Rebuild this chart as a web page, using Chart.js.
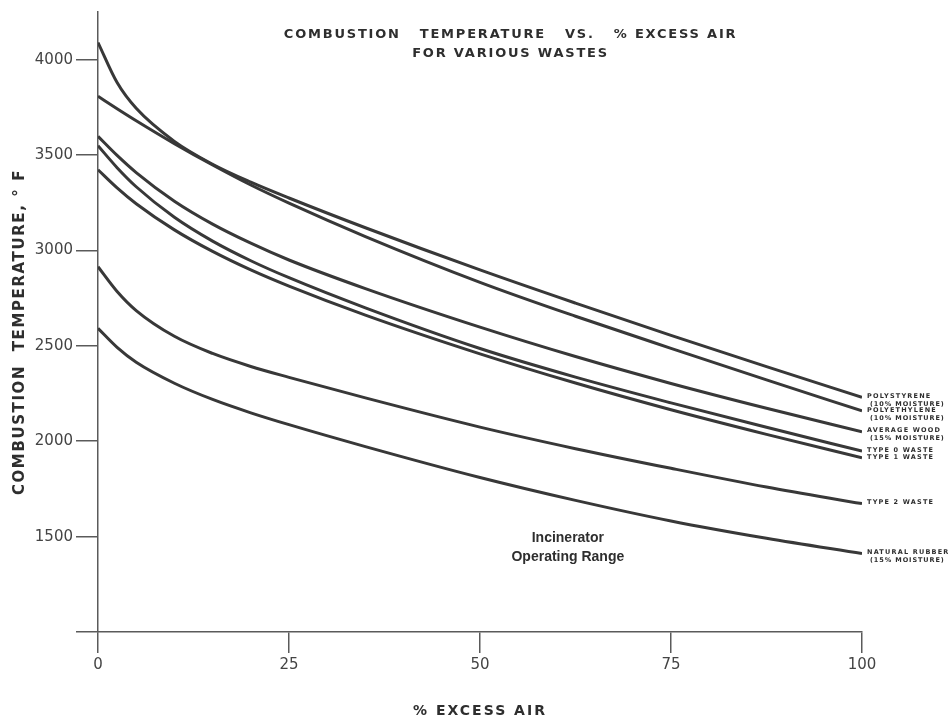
<!DOCTYPE html>
<html>
<head>
<meta charset="utf-8">
<script src="https://cdn.jsdelivr.net/npm/chart.js@4.4.0/dist/chart.umd.min.js"></script>
<style>
  html, body { margin: 0; padding: 0; background: #ffffff; }
  #wrap { width: 950px; height: 717px; }
</style>
</head>
<body>
<div id="wrap"><canvas id="chart" width="950" height="717"></canvas></div>
<script>
// % excess air sample points
const excessAir = [0, 2.5, 5, 10, 15, 20, 25, 35, 50, 62.5, 75, 87.5, 100];

// Combustion temperature, deg F, per waste type
const polystyrene   = [4090, 3880, 3745, 3572, 3452, 3358, 3275, 3119, 2898, 2724, 2555, 2391, 2230];
const polyethylene  = [3808, 3743, 3680, 3560, 3448, 3343, 3248, 3073, 2833, 2655, 2487, 2322, 2159];
const averageWood   = [3598, 3498, 3408, 3258, 3138, 3038, 2950, 2800, 2598, 2444, 2303, 2173, 2050];
const typeZero      = [3549, 3434, 3334, 3174, 3049, 2946, 2857, 2699, 2486, 2336, 2201, 2073, 1948];
const typeOne       = [3423, 3328, 3245, 3108, 2995, 2898, 2813, 2661, 2458, 2305, 2165, 2036, 1913];
const typeTwo       = [2915, 2785, 2685, 2550, 2460, 2392, 2335, 2227, 2074, 1961, 1858, 1760, 1673];
const naturalRubber = [2592, 2492, 2414, 2304, 2219, 2149, 2087, 1972, 1810, 1690, 1582, 1491, 1411];

// End-of-line labels (one or two lines each)
const labelPolystyrene  = ['POLYSTYRENE', '(10% MOISTURE)'];
const labelPolyethylene = ['POLYETHYLENE', '(10% MOISTURE)'];
const labelWood         = ['AVERAGE WOOD', '(15% MOISTURE)'];
const labelTypeZero     = ['TYPE 0 WASTE'];
const labelTypeOne      = ['TYPE 1 WASTE'];
const labelTypeTwo      = ['TYPE 2 WASTE'];
const labelRubber       = ['NATURAL RUBBER', '(15% MOISTURE)'];

// Axis tick values
const tempTicks = [1000, 1500, 2000, 2500, 3000, 3500, 4000];
const airTicks = [0, 25, 50, 75, 100];

const series = [
  { name: labelPolystyrene, values: polystyrene },
  { name: labelPolyethylene, values: polyethylene },
  { name: labelWood, values: averageWood },
  { name: labelTypeZero, values: typeZero },
  { name: labelTypeOne, values: typeOne },
  { name: labelTypeTwo, values: typeTwo },
  { name: labelRubber, values: naturalRubber }
];

const INK = '#2e2e2e';
const AXIS = '#5a5a5a';

// Draws titles, axis title and the labels at the end of each curve
const annotations = {
  id: 'annotations',
  afterDraw(chart) {
    const { ctx, chartArea, scales } = chart;
    const xs = scales.x, ys = scales.y;
    ctx.save();
    ctx.fillStyle = INK;
    ctx.textBaseline = 'middle';

    // Chart title
    ctx.font = 'bold 13px "DejaVu Sans"';
    ctx.letterSpacing = '1.8px';
    ctx.textAlign = 'center';
    const tx = xs.getPixelForValue(54);
    ctx.fillText('COMBUSTION   TEMPERATURE   VS.   % EXCESS AIR', tx, chartArea.top + 23);
    ctx.fillText('FOR VARIOUS WASTES', tx, chartArea.top + 42);

    // Operating range note
    ctx.font = 'bold 14px "Liberation Sans"';
    ctx.letterSpacing = '0px';
    const nx = xs.getPixelForValue(61.5);
    ctx.fillText('Incinerator', nx, ys.getPixelForValue(1490));
    ctx.fillText('Operating Range', nx, ys.getPixelForValue(1392));

    // X axis title
    ctx.font = 'bold 14px "DejaVu Sans"';
    ctx.letterSpacing = '2px';
    ctx.fillText('% EXCESS AIR', xs.getPixelForValue(50), 711);

    // Y axis title
    ctx.save();
    ctx.translate(20, (chartArea.top + chartArea.bottom) / 2 + 10);
    ctx.rotate(-Math.PI / 2);
    ctx.font = 'bold 15px "DejaVu Sans"';
    ctx.letterSpacing = '1.6px';
    ctx.fillText('COMBUSTION  TEMPERATURE, \u00B0 F', 0, 0);
    ctx.restore();

    // Curve labels
    ctx.textAlign = 'left';
    ctx.font = 'bold 6.5px "DejaVu Sans"';
    series.forEach(s => {
      const yEnd = ys.getPixelForValue(s.values[s.values.length - 1]);
      const x0 = chartArea.right + 5;
      ctx.letterSpacing = '1.2px';
      ctx.fillText(s.name[0], x0, yEnd - 1);
      if (s.name[1]) {
        ctx.letterSpacing = '0.9px';
        ctx.fillText(s.name[1], x0 + 3, yEnd + 7);
      }
    });
    ctx.restore();
  }
};

new Chart(document.getElementById('chart'), {
  type: 'line',
  data: {
    datasets: series.map(s => ({
      label: s.name.join(' '),
      data: excessAir.map((x, i) => ({ x, y: s.values[i] })),
      borderColor: '#383838',
      borderWidth: 3,
      pointRadius: 0,
      fill: false,
      cubicInterpolationMode: 'monotone'
    }))
  },
  options: {
    responsive: false,
    animation: false,
    devicePixelRatio: 1,
    layout: { padding: { top: 12, right: 88, left: 0, bottom: 0 } },
    plugins: {
      legend: { display: false },
      tooltip: { enabled: false }
    },
    scales: {
      x: {
        type: 'linear',
        min: 0,
        max: 100,
        afterBuildTicks: s => { s.ticks = airTicks.map(v => ({ value: v })); },
        afterFit: s => { s.height = 85; },
        grid: { drawOnChartArea: false, drawTicks: true, tickLength: 21, color: AXIS, lineWidth: 1.5 },
        border: { display: true, color: AXIS, width: 1.5 },
        ticks: {
          font: { family: 'DejaVu Sans', size: 15 },
          color: '#444',
          padding: 3,
          maxRotation: 0,
          autoSkip: false
        }
      },
      y: {
        type: 'linear',
        min: 1000,
        max: 4250,
        afterBuildTicks: s => { s.ticks = tempTicks.map(v => ({ value: v })); },
        afterFit: s => { s.width = 98; },
        grid: { drawOnChartArea: false, drawTicks: true, tickLength: 22, color: AXIS, lineWidth: 1.5 },
        border: { display: true, color: AXIS, width: 1.5 },
        ticks: {
          font: { family: 'DejaVu Sans', size: 15 },
          color: '#444',
          padding: 3,
          autoSkip: false,
          callback: v => (v === 1000 ? '' : String(v))
        }
      }
    }
  },
  plugins: [annotations]
});
</script>
</body>
</html>
